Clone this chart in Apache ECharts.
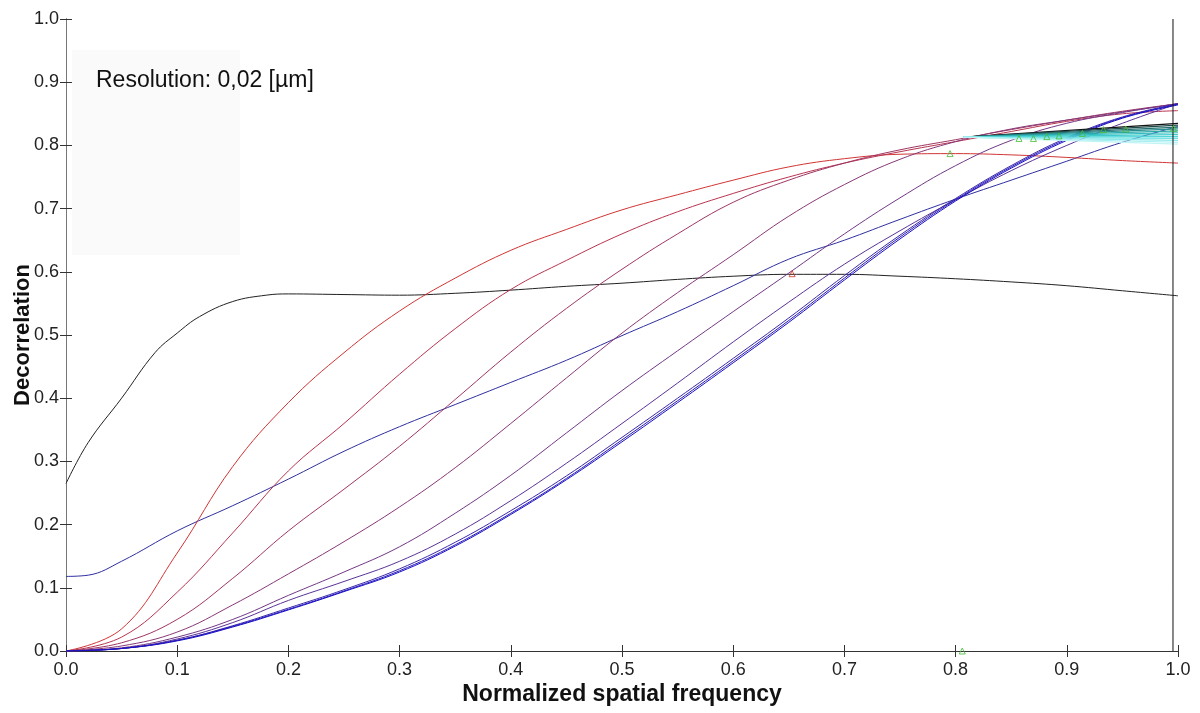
<!DOCTYPE html>
<html>
<head>
<meta charset="utf-8">
<script src="https://cdn.jsdelivr.net/npm/echarts@6/dist/echarts.min.js"></script>
<style>
html,body{margin:0;padding:0;background:#fff;}
#chart{width:1200px;height:713px;}
</style>
</head>
<body>
<div id="chart"></div>
<script>
// ---- data ----
const xs = [0, .05, .1, .15, .2, .25, .3, .35, .4, .45, .5, .55, .6, .65, .7, .75, .8, .85, .9, .95, 1.0];
const xTicks = ['0.0','0.1','0.2','0.3','0.4','0.5','0.6','0.7','0.8','0.9','1.0'];

const blackXs    = [0, .02, .05, .08, .1, .12, .15, .18, .2, .25, .3, .35, .4, .45, .5, .55, .6, .65, .7, .75, .8, .85, .9, .95, 1.0];
const blackCurve = [.265,.33,.40,.472,.503,.529,.553,.563,.565,.564,.563,.566,.571,.577,.582,.588,.593,.596,.596,.593,.589,.584,.578,.57,.562];
const blueXs     = [0, .02, .05, .1, .15, .2, .25, .3, .35, .4, .45, .5, .55, .6, .65, .7, .75, .8, .85, .9, .95, 1.0];
const blueLine   = [.118,.12,.142,.19,.23,.272,.316,.355,.39,.425,.46,.499,.537,.578,.62,.65,.683,.715,.745,.775,.805,.83];
const red1   = [0,.035,.155,.292,.393,.472,.538,.59,.634,.667,.698,.722,.745,.766,.779,.786,.787,.785,.781,.776,.772];
const red2   = [0,.022,.093,.187,.285,.36,.438,.51,.572,.618,.66,.695,.724,.75,.772,.79,.806,.822,.838,.85,.855];
const red3   = [0,.013,.05,.115,.19,.256,.324,.398,.473,.542,.604,.66,.71,.745,.772,.793,.809,.825,.84,.854,.866];
const curve4 = [0,.008,.03,.073,.122,.173,.228,.29,.36,.432,.503,.567,.627,.688,.738,.778,.806,.826,.84,.853,.866];
const curve5 = [0,.005,.022,.05,.088,.125,.165,.218,.278,.345,.412,.475,.537,.598,.66,.717,.768,.808,.835,.852,.866];
const curve6 = [0,.004,.019,.045,.08,.11,.142,.185,.238,.297,.36,.424,.489,.552,.612,.665,.714,.76,.8,.835,.866];
const cluster1 = [0,.004,.017,.04,.068,.097,.13,.172,.222,.277,.338,.4,.463,.527,.594,.658,.716,.768,.812,.845,.866];
const cluster2 = [0,.004,.017,.039,.066,.095,.127,.168,.218,.273,.334,.396,.459,.523,.59,.655,.714,.766,.81,.844,.865];
const cluster3 = [0,.004,.016,.038,.065,.094,.125,.166,.216,.271,.331,.393,.456,.52,.587,.652,.712,.764,.808,.843,.864];

// fan of short lines in the upper right
const fanStartX = 0.807, fanStartY = 0.813;
const fanEndY = [.835,.832,.829,.826,.823,.820,.817,.814,.811,.808,.805,.802];
// markers
const greenMarksX = [.795,.857,.87,.882,.893,.914,.933,.953,.996,.806];
const greenMarksY = [.787,.811,.811,.814,.815,.819,.825,.826,.827,0];
const redMarkX = [.653], redMarkY = [.597];
const vLineX = 0.9955;

// ---- styles ----
const FONT = "'Liberation Sans', Arial, sans-serif";
const curves = [
  {x: blackXs, d: blackCurve, c: '#222222'},
  {x: blueXs, d: blueLine, c: '#2f2fa0'},
  {x: xs, d: red1, c: '#d03434'},
  {x: xs, d: red2, c: '#b83450'},
  {x: xs, d: red3, c: '#9e3664'},
  {x: xs, d: curve4, c: '#883876'},
  {x: xs, d: curve5, c: '#723886'},
  {x: xs, d: curve6, c: '#5a3296'},
  {x: xs, d: cluster1, c: '#3c28aa'},
  {x: xs, d: cluster2, c: '#2a1cb8'},
  {x: xs, d: cluster3, c: '#1a10c4'}
];
const fanColors = ['#111111','#1f4a4a','#256f70','#2a8f90','#2aa8aa','#30bcbe','#3ccacc','#50d6d8','#70e0e2','#8ae8ea','#a6eef0','#c0f4f5'];

const series = [];
curves.forEach(cv => {
  series.push({
    type: 'line', xAxisIndex: 0, yAxisIndex: 0,
    data: cv.x.map((x, i) => [x, cv.d[i]]),
    showSymbol: false, smooth: 0.4,
    lineStyle: {color: cv.c, width: 1}, silent: true, z: 3
  });
});
fanEndY.forEach((y, i) => {
  series.push({
    type: 'line', data: [[fanStartX, fanStartY], [1.0, y]],
    showSymbol: false, lineStyle: {color: fanColors[i], width: 1.2}, silent: true, z: 4
  });
});
series.push({
  type: 'line', data: [[vLineX, 0], [vLineX, 1]], showSymbol: false,
  lineStyle: {color: '#111', width: 1}, silent: true, z: 5
});
series.push({
  type: 'scatter', data: greenMarksX.map((x, i) => [x, greenMarksY[i]]),
  symbol: 'triangle', symbolSize: 6,
  itemStyle: {color: 'rgba(0,0,0,0)', borderColor: '#44bb33', borderWidth: 1}, silent: true, z: 6
});
series.push({
  type: 'scatter', data: redMarkX.map((x, i) => [x, redMarkY[i]]),
  symbol: 'triangle', symbolSize: 6,
  itemStyle: {color: 'rgba(0,0,0,0)', borderColor: '#cc3322', borderWidth: 1}, silent: true, z: 6
});

const axisLineStyle = {lineStyle: {color: '#333', width: 1}};
const tickStyle = {inside: true, length: 6, lineStyle: {color: '#333', width: 1}};

const chart = echarts.init(document.getElementById('chart'), null, {renderer: 'canvas'});
chart.setOption({
  animation: false,
  backgroundColor: '#fff',
  grid: {left: 66, right: 22, top: 19, bottom: 62, containLabel: false, outerBoundsMode: 'none'},
  xAxis: [{
    type: 'value', min: 0, max: 1, interval: 0.1, position: 'bottom',
    name: 'Normalized spatial frequency', nameLocation: 'middle', nameGap: 32, nameMoveOverlap: false,
    nameTextStyle: {fontFamily: FONT, fontSize: 23, fontWeight: 'bold', color: '#111'},
    axisLine: axisLineStyle, axisTick: tickStyle, splitLine: {show: false},
    axisLabel: {fontFamily: FONT, fontSize: 18, color: '#222', margin: 10,
      formatter: v => xTicks[Math.round(v * 10)]}
  }, {
    type: 'value', min: 0, max: 1, interval: 0.1, position: 'top',
    axisLine: axisLineStyle, axisTick: tickStyle, axisLabel: {show: false}, splitLine: {show: false}
  }],
  yAxis: [{
    type: 'value', min: 0, max: 1, interval: 0.1, position: 'left',
    name: 'Decorrelation', nameLocation: 'middle', nameGap: 32, nameRotate: 90, nameMoveOverlap: false,
    nameTextStyle: {fontFamily: FONT, fontSize: 22, fontWeight: 'bold', color: '#111'},
    axisLine: axisLineStyle, axisTick: tickStyle, splitLine: {show: false},
    axisLabel: {fontFamily: FONT, fontSize: 18, color: '#222', margin: 7,
      formatter: v => xTicks[Math.round(v * 10)]}
  }, {
    type: 'value', min: 0, max: 1, interval: 0.1, position: 'right',
    axisLine: {lineStyle: {color: '#777', width: 1}}, axisTick: tickStyle, axisLabel: {show: false}, splitLine: {show: false}
  }],
  graphic: [
    {type: 'rect', shape: {x: 72, y: 50, width: 168, height: 205}, style: {fill: '#fafafa'}, z: 0, silent: true},
    {type: 'text', x: 96, y: 81, style: {text: 'Resolution: 0,02 [µm]', fontFamily: FONT, fontSize: 23,
      fill: '#111', textVerticalAlign: 'middle'}, z: 10, silent: true}
  ],
  series: series
});
</script>
</body>
</html>
